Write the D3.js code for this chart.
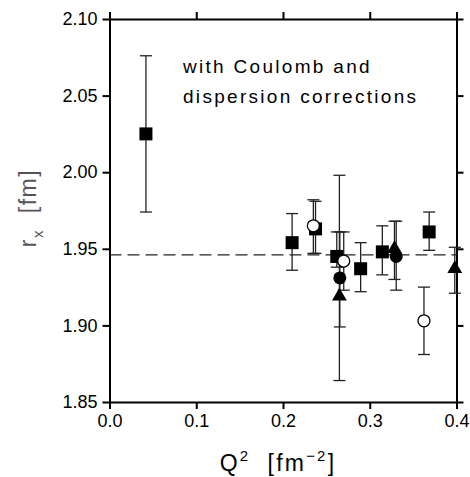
<!DOCTYPE html>
<html>
<head>
<meta charset="utf-8">
<script src="https://cdn.jsdelivr.net/npm/d3@7"></script>
<style>
  body { margin: 0; background: #fff; }
  svg text { font-family: "Liberation Sans", Arial, sans-serif; fill: #000; white-space: pre; }
</style>
</head>
<body>
<svg id="chart" width="470" height="477"></svg>
<script>
// Q^2 values (fm^-2) of each measurement
const squareQ2   = [0.042, 0.2105, 0.2375, 0.262, 0.2895, 0.3145, 0.3685];
const squareR    = [2.025, 1.954, 1.963, 1.945, 1.937, 1.948, 1.961];
const squareLo   = [1.974, 1.936, 1.947, 1.938, 1.922, 1.933, 1.949];
const squareHi   = [2.076, 1.973, 1.981, 1.961, 1.954, 1.965, 1.974];

const filledCircleQ2 = [0.2655, 0.3305];
const filledCircleR  = [1.931, 1.945];
const filledCircleLo = [1.899, 1.923];
const filledCircleHi = [1.961, 1.968];

const openCircleQ2 = [0.235, 0.270, 0.3625];
const openCircleR  = [1.965, 1.942, 1.903];
const openCircleLo = [1.947, 1.923, 1.881];
const openCircleHi = [1.982, 1.961, 1.925];

const triangleQ2 = [0.265, 0.3285, 0.398];
const triangleR  = [1.919, 1.950, 1.937];
const triangleLo = [1.864, 1.930, 1.921];
const triangleHi = [1.998, 1.968, 1.951];

const averageR = 1.946;

const xTicks = [0.0, 0.1, 0.2, 0.3, 0.4];
const yTicks = [1.85, 1.90, 1.95, 2.00, 2.05, 2.10];
const noteLines = ["with Coulomb and", "dispersion corrections"];

const svg = d3.select("#chart");
const L = 109.5, R = 456.5, T = 19, B = 402;

const x = d3.scaleLinear().domain([0, 0.4]).range([L, R]);
const y = d3.scaleLinear().domain([1.85, 2.10]).range([B, T]);

// axes on all four sides, outward ticks, labels only bottom and left
const tick = 7;
const styleAxis = g => {
  g.selectAll(".domain").attr("stroke", "#000").attr("stroke-width", 2);
  g.selectAll(".tick line").attr("stroke", "#000").attr("stroke-width", 2);
  g.selectAll(".tick text").attr("font-size", 18).attr("font-family", "Liberation Sans, Arial, sans-serif").attr("fill", "#000");
};
svg.append("g").attr("transform", `translate(0,${B})`)
  .call(d3.axisBottom(x).tickValues(xTicks).tickFormat(d3.format(".1f")).tickSize(tick).tickSizeOuter(0).tickPadding(5))
  .call(styleAxis);
svg.append("g").attr("transform", `translate(0,${T})`)
  .call(d3.axisTop(x).tickValues(xTicks).tickFormat("").tickSize(tick).tickSizeOuter(0))
  .call(styleAxis);
svg.append("g").attr("transform", `translate(${L},0)`)
  .call(d3.axisLeft(y).tickValues(yTicks).tickFormat(d3.format(".2f")).tickSize(tick).tickSizeOuter(0).tickPadding(5))
  .call(styleAxis);
svg.append("g").attr("transform", `translate(${R},0)`)
  .call(d3.axisRight(y).tickValues(yTicks).tickFormat("").tickSize(tick).tickSizeOuter(0))
  .call(styleAxis);

// average radius
svg.append("line")
  .attr("x1", x(0)).attr("x2", x(0.4))
  .attr("y1", y(averageR)).attr("y2", y(averageR))
  .attr("stroke", "#222").attr("stroke-width", 1.3)
  .attr("stroke-dasharray", "12,6");

const plot = svg.append("g");

function errorBars(q, lo, hi) {
  const g = plot.append("g").attr("stroke", "#222").attr("stroke-width", 1.3);
  q.forEach((d, i) => {
    g.append("line").attr("x1", x(d)).attr("x2", x(d)).attr("y1", y(lo[i])).attr("y2", y(hi[i]));
    [lo[i], hi[i]].forEach(v => g.append("line")
      .attr("x1", x(d) - 6).attr("x2", x(d) + 6).attr("y1", y(v)).attr("y2", y(v)));
  });
}

errorBars(squareQ2, squareLo, squareHi);
errorBars(filledCircleQ2, filledCircleLo, filledCircleHi);
errorBars(openCircleQ2, openCircleLo, openCircleHi);
errorBars(triangleQ2, triangleLo, triangleHi);

plot.append("g").selectAll("rect").data(squareQ2).join("rect")
  .attr("x", d => x(d) - 6.5).attr("y", (d, i) => y(squareR[i]) - 6.5)
  .attr("width", 13).attr("height", 13).attr("fill", "#000");

plot.append("g").selectAll("circle").data(openCircleQ2).join("circle")
  .attr("cx", d => x(d)).attr("cy", (d, i) => y(openCircleR[i]))
  .attr("r", 6).attr("fill", "#fff").attr("stroke", "#000").attr("stroke-width", 1.3);

plot.append("g").selectAll("circle").data(filledCircleQ2).join("circle")
  .attr("cx", d => x(d)).attr("cy", (d, i) => y(filledCircleR[i]))
  .attr("r", 6.5).attr("fill", "#000");

const tri = d3.symbol().type(d3.symbolTriangle).size(95);
plot.append("g").selectAll("path").data(triangleQ2).join("path")
  .attr("d", tri)
  .attr("transform", (d, i) => `translate(${x(d)},${y(triangleR[i])})`)
  .attr("fill", "#000");

// annotation
svg.append("g").selectAll("text").data(noteLines).join("text")
  .attr("x", 183).attr("y", (d, i) => 73 + i * 30)
  .attr("font-size", 19).attr("letter-spacing", 2.3)
  .text(d => d);

// axis titles
const xt = svg.append("text").attr("x", 278).attr("y", 471)
  .attr("text-anchor", "middle").attr("font-size", 23).attr("letter-spacing", 2.2);
xt.append("tspan").text("Q");
xt.append("tspan").attr("font-size", 15).attr("dy", -10).text("2");
xt.append("tspan").attr("dy", 10).text("  [fm");
xt.append("tspan").attr("font-size", 15).attr("dy", -10).text("−2");
xt.append("tspan").attr("dy", 10).text("]");

const yt = svg.append("text").attr("transform", "translate(36,208) rotate(-90)")
  .attr("text-anchor", "middle").attr("font-size", 23).attr("letter-spacing", 1.5)
  .style("fill", "#555");
yt.append("tspan").text("r");
yt.append("tspan").attr("font-size", 15).attr("dy", 7).text("x");
yt.append("tspan").attr("dy", -7).text("  [fm]");
</script>
</body>
</html>
